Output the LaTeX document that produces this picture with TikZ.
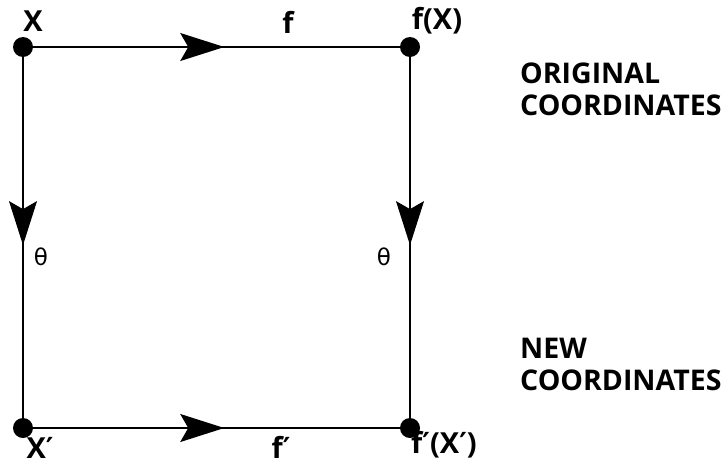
\documentclass[tikz,border=0pt]{standalone}
\usepackage{fontspec}
\setmainfont{Open Sans}
\newfontfamily\thetafont{DejaVu Sans}
\newcommand{\prm}{{\thetafont\bfseries ′}}
\usetikzlibrary{arrows.meta,decorations.markings}
\tikzset{
  dot/.style={circle,fill=black,inner sep=0pt,minimum size=20pt},
  lab/.style={font=\fontsize{29}{31}\selectfont\bfseries,inner sep=0pt},
  side/.style={font=\fontsize{28.5}{32}\selectfont\bfseries,inner sep=0pt,align=left,anchor=north west},
  thet/.style={font=\thetafont\fontsize{23}{23}\selectfont,inner sep=0pt},
  conn/.style={line width=1.2pt,postaction={decorate},decoration={markings,
     mark=at position 0.52 with {\arrow{Stealth[length=44pt,width=28pt,inset=8pt]}}}}
}
\begin{document}
\begin{tikzpicture}[x=1pt,y=-1pt]
\useasboundingbox (0,0) rectangle (727,466);
\node[dot] (x) at (23,47) {};
\node[dot] (fx) at (410,47) {};
\node[dot] (xp) at (23,428) {};
\node[dot] (fxp) at (410,428) {};
\draw[conn] (x.center) -- (fx.center);
\draw[conn] (x.center) -- (xp.center);
\draw[conn] (fx.center) -- (fxp.center);
\draw[conn] (xp.center) -- (fxp.center);
\node[lab] (lx) at (33,21) {X};
\node[lab] (lf) at (288,22) {f};
\node[lab] (lfx) at (437,21) {f(X)};
\node[lab] (lxp) at (40,448) {X\prm};
\node[lab] (lfp) at (281,447) {f\prm};
\node[lab] (lfxp) at (444,445) {f\prm(X\prm)};
\node[thet] (t1) at (41,257) {θ};
\node[thet] (t2) at (384,257) {θ};
\node[side] (orig) at (520,63) {ORIGINAL\\COORDINATES};
\node[side] (new) at (520,338) {NEW\\COORDINATES};
\end{tikzpicture}
\end{document}
